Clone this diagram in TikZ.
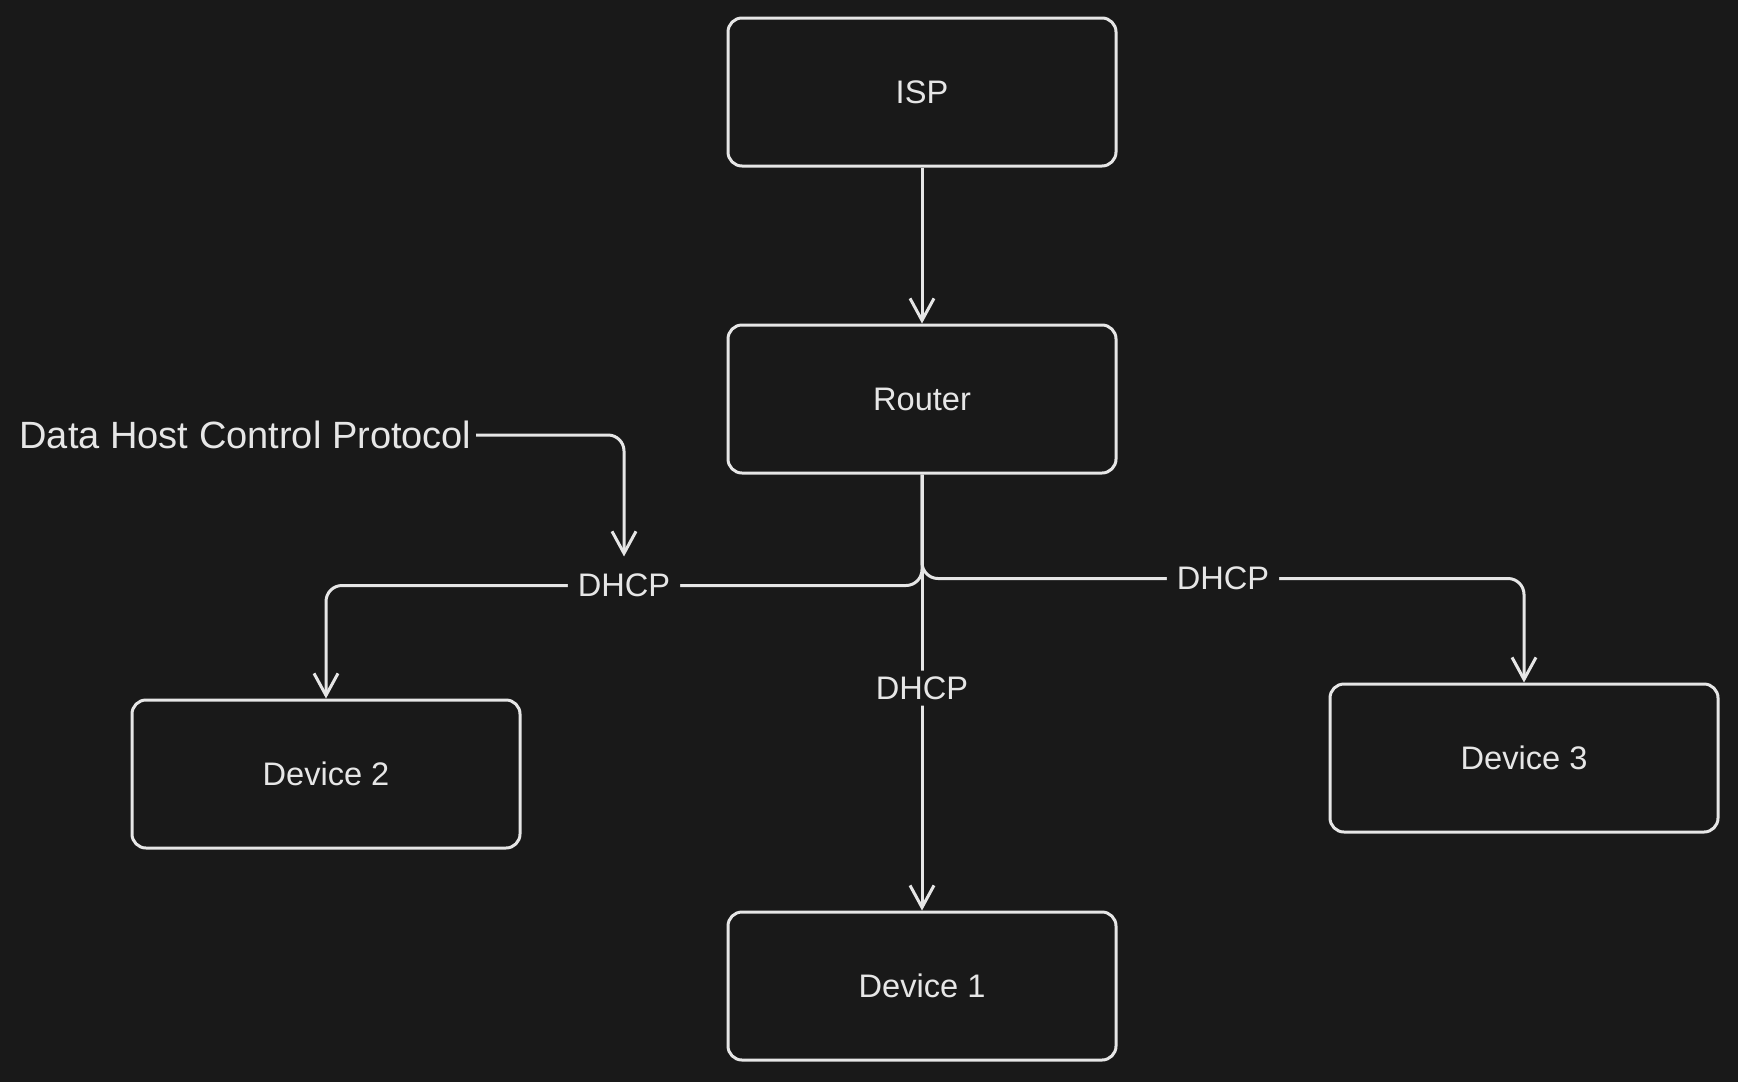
\documentclass[tikz,border=0pt]{standalone}
\usepackage{fontspec}
\setmainfont{Liberation Sans}
\usetikzlibrary{arrows.meta}
\definecolor{bgdark}{HTML}{191919}
\definecolor{inkwhite}{HTML}{E6E6E6}
\begin{document}
\begin{tikzpicture}[x=0.5pt, y=-0.5pt, line width=1.5pt, draw=inkwhite, text=inkwhite]
        \tikzstyle{box}=[draw, rounded corners=7pt, minimum width=194pt, minimum height=74pt, font=\fontsize{16.3}{18}\selectfont]
        \tikzstyle{tag}=[fill=bgdark, inner xsep=5pt, inner ysep=3pt, font=\fontsize{16.3}{18}\selectfont]
        \tikzstyle{link}=[draw, -{Straight Barb[length=11pt, width=12pt]}, rounded corners=8pt]

        \fill[bgdark] (0,0) rectangle (1738,1082);
        \useasboundingbox (0,0) rectangle (1738,1082);

        \node   (isp)     [box] at (922,92)   {ISP};
        \node   (router)  [box] at (922,399)  {Router};
        \node   (dev1)    [box] at (922,986)  {Device 1};
        \node   (dev2)    [box] at (326,774)  {Device 2};
        \node   (dev3)    [box] at (1524,758) {Device 3};
        \node   (note)    [anchor=east, inner sep=1.5pt, font=\fontsize{19}{22}\selectfont] at (476,435) {Data Host Control Protocol};

        \path[link] (isp) -- (router);
        \path[link] (router.south) -- ++(0,111) -| node[tag, pos=0.25] (dhcpl) {DHCP} (dev2.north);
        \path[link] (router.south) -- ++(0,104) -| node[tag, pos=0.25] (dhcpr) {DHCP} (dev3.north);
        \path[link] (router.south) -- node[tag, pos=0.49] (dhcpm) {DHCP} (dev1.north);
        \path[link] (note.east) -| ([yshift=5pt]dhcpl.north);

    \end{tikzpicture}
\end{document}
